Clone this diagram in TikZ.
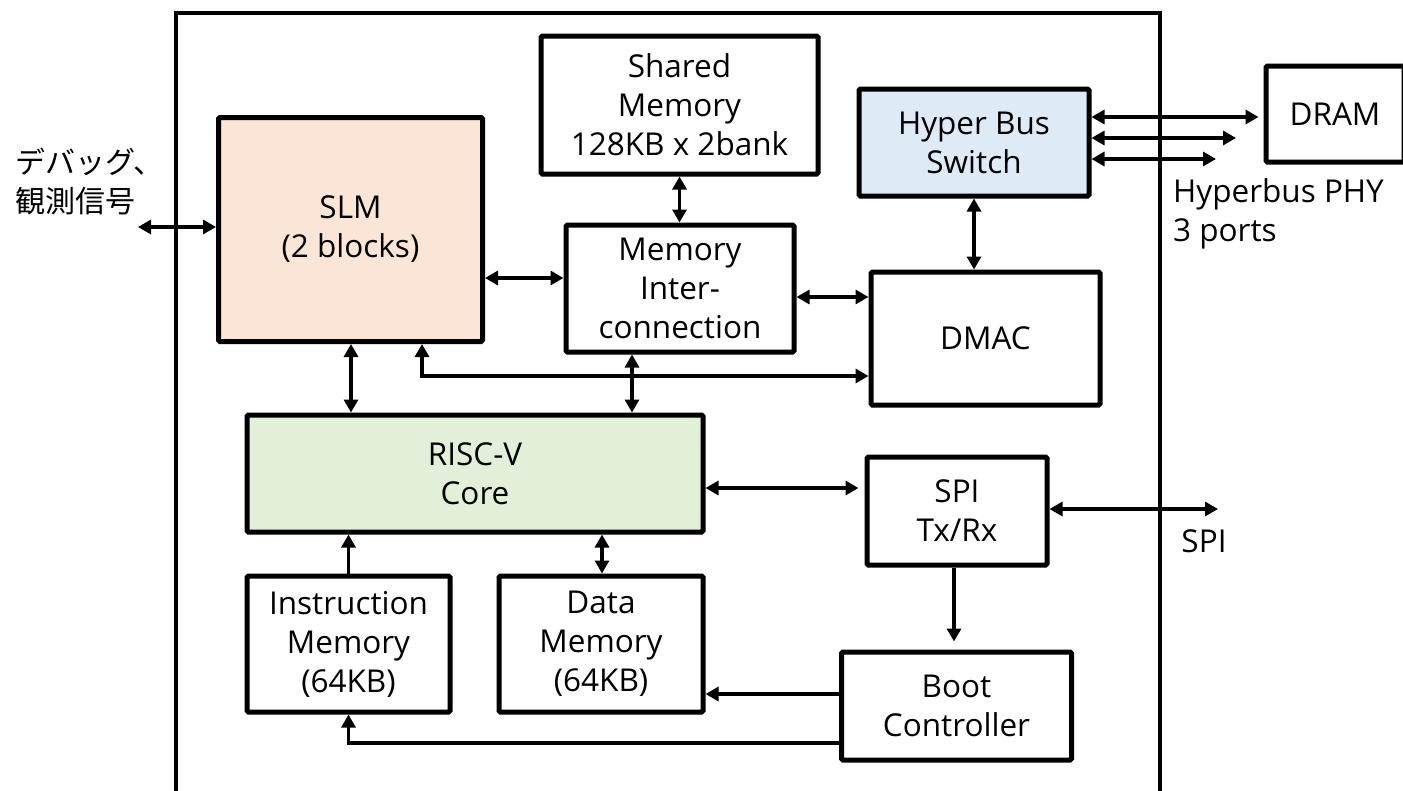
\documentclass[tikz,border=0pt]{standalone}
\usepackage{fontspec}
\setmainfont{Open Sans}
\newfontfamily\jpfont{Noto Sans CJK JP}
\usetikzlibrary{arrows.meta}
\definecolor{slmfill}{RGB}{251,229,214}
\definecolor{hbsfill}{RGB}{222,235,247}
\definecolor{riscfill}{RGB}{226,240,217}
\begin{document}
\begin{tikzpicture}[x=1pt,y=-1pt,
  box/.style={draw, line width=5pt, rounded corners=1.5pt, align=center,
    font=\fontsize{31.5}{39}\selectfont, inner sep=0pt},
  lbl/.style={align=left, inner sep=0pt, font=\fontsize{31.5}{39}\selectfont},
  tip/.tip={Triangle[length=13pt,width=14pt]},
  con/.style={line width=3.2pt, -tip},
  bi/.style={line width=3.2pt, tip-tip},
]
\useasboundingbox (0,0) rectangle (1403,790);
\fill[white] (0,0) rectangle (1403,790);
% outer frame
\draw[line width=4pt] (176,800) -- (176,13) -- (1160,13) -- (1160,800);

% blocks
\node[box, fill=slmfill, minimum width=264pt, minimum height=224pt] (slm) at (350.5,229.5) {SLM\\(2 blocks)};
\node[box, minimum width=277pt, minimum height=138pt] (shm) at (679.5,105) {Shared\\Memory\\128KB x 2bank};
\node[box, fill=hbsfill, minimum width=230pt, minimum height=107pt] (hbs) at (974,142.5) {Hyper Bus\\Switch};
\node[box, minimum width=138pt, minimum height=96pt] (dram) at (1335,114) {DRAM};
\node[box, minimum width=228pt, minimum height=127pt] (mic) at (680,288.5) {Memory\\Inter-\\connection};
\node[box, minimum width=229pt, minimum height=133pt] (dmac) at (985.5,338.5) {DMAC};
\node[box, fill=riscfill, minimum width=456pt, minimum height=117pt] (risc) at (475,473.5) {RISC-V\\Core};
\node[box, minimum width=180pt, minimum height=108pt] (spi) at (957,511) {SPI\\Tx/Rx};
\node[box, minimum width=203pt, minimum height=136pt] (instr) at (348.5,644) {Instruction\\Memory\\(64KB)};
\node[box, minimum width=204pt, minimum height=136pt] (data) at (601,644) {Data\\Memory\\(64KB)};
\node[box, minimum width=230pt, minimum height=108pt] (boot) at (956.5,706) {Boot\\Controller};

% labels
\node[lbl, anchor=west, font=\jpfont\fontsize{30}{39}\selectfont] (dbglbl) at (15,181) {デバッグ、\\観測信号};
\node[lbl, anchor=west] (hblbl) at (1173,214) {Hyperbus PHY\\3 ports};
\node[lbl] (spilbl) at (1204,541) {SPI};

% free ends
\coordinate (dbg) at (138,227);
\coordinate (p2) at (1236,138);
\coordinate (p3) at (1216,159);
\coordinate (spiout) at (1218,509);

% connectors
\draw[bi] (dbg) -- (slm.west |- dbg);
\draw[bi] (slm.east |- 0,278) -- (mic.west |- 0,278);
\draw[bi] (shm.south) -- (shm.south |- mic.north);
\draw[bi] (mic.east |- 0,297) -- (dmac.west |- 0,297);
\draw[bi] (hbs.south) -- (hbs.south |- dmac.north);
\draw[bi, shorten >=5pt] (hbs.east |- 0,117) -- (dram.west |- 0,117);
\draw[bi] (hbs.east |- p2) -- (p2);
\draw[bi] (hbs.east |- p3) -- (p3);
\draw[bi] (slm.south -| 351,0) -- (risc.north -| 351,0);
\draw[bi] (slm.south -| 422,0) -- (422,376) -- (dmac.west |- 0,376);
\draw[bi] (mic.south -| 632,0) -- (risc.north -| 632,0);
\draw[bi, shorten >=6pt] (risc.east |- 0,488) -- (spi.west |- 0,488);
\draw[bi] (spi.east |- spiout) -- (spiout);
\draw[con, shorten >=8pt] (spi.south -| 954,0) -- (boot.north -| 954,0);
\draw[con] (instr.north) -- (risc.south -| instr.north);
\draw[bi] (data.north -| 602,0) -- (risc.south -| 602,0);
\draw[con] (boot.west |- 0,694) -- (data.east |- 0,694);
\draw[con] (boot.west |- 0,743) -- (instr.south |- 0,743) -- (instr.south);
\end{tikzpicture}
\end{document}
